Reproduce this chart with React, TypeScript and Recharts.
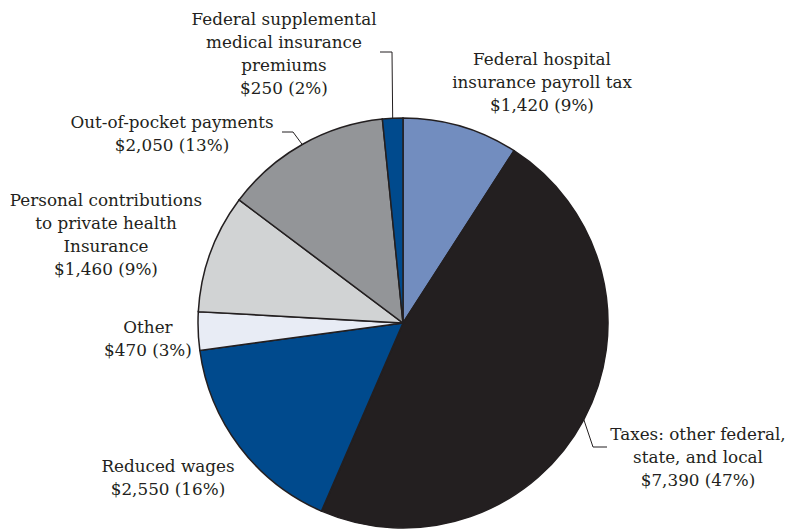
import React from "react";
import { PieChart, Pie, Cell } from "recharts";

const categories = [
  "Federal hospital insurance payroll tax",
  "Taxes: other federal, state, and local",
  "Reduced wages",
  "Other",
  "Personal contributions to private health Insurance",
  "Out-of-pocket payments",
  "Federal supplemental medical insurance premiums",
];
const values = [1420, 7390, 2550, 470, 1460, 2050, 250];
const percents = ["9%", "47%", "16%", "3%", "9%", "13%", "2%"];
const labelLines: string[][] = [
  ["Federal hospital", "insurance payroll tax"],
  ["Taxes: other federal,", "state, and local"],
  ["Reduced wages"],
  ["Other"],
  ["Personal contributions", "to private health", "Insurance"],
  ["Out-of-pocket payments"],
  ["Federal supplemental", "medical insurance", "premiums"],
];
const colors = ["#728dbf", "#231f20", "#004a8d", "#e8ecf5", "#d1d3d4", "#939598", "#004a8d"];

// label layout: text centre x, first baseline y, optional leader elbow + end
const labelLayout = [
  { x: 542, y: 65, leader: null },
  { x: 698, y: 440, leader: [[593, 447], [607, 447]] },
  { x: 168, y: 472, leader: null },
  { x: 148, y: 333, leader: null },
  { x: 106, y: 206, leader: null },
  { x: 172, y: 128, leader: [[293, 132], [282, 132]] },
  { x: 284, y: 25, leader: [[392, 52], [380, 52]] },
];

const data = categories.map((name, i) => ({
  name,
  value: values[i],
  pct: percents[i],
  lines: labelLines[i],
}));

const FONT = "'DejaVu Serif', serif";
const LINE_H = 23;
const TEXT = "#231f20";
const RAD = Math.PI / 180;

const renderLabel = (props: any) => {
  const { cx, cy, midAngle, outerRadius, index } = props;
  const d = data[index];
  const lay = labelLayout[index];
  const lines = [...d.lines, `$${d.value.toLocaleString("en-US")} (${d.pct})`];
  let leader = null;
  if (lay.leader) {
    const sx = cx + outerRadius * Math.cos(-midAngle * RAD);
    const sy = cy + outerRadius * Math.sin(-midAngle * RAD);
    const pts = [[sx, sy], ...lay.leader].map((p) => p.join(",")).join(" ");
    leader = <polyline points={pts} fill="none" stroke={TEXT} strokeWidth={1} />;
  }
  return (
    <g key={`lbl-${index}`}>
      {leader}
      <text x={lay.x} y={lay.y} textAnchor="middle" fill={TEXT} fontFamily={FONT} fontSize={16.8}>
        {lines.map((l, j) => (
          <tspan key={j} x={lay.x} y={lay.y + j * LINE_H}>
            {l}
          </tspan>
        ))}
      </text>
    </g>
  );
};

export default function App() {
  return (
    <div style={{ position: "absolute", left: 0, top: 0, background: "#fff" }}>
      <PieChart width={785} height={529} margin={{ top: 0, right: 0, bottom: 0, left: 0 }}>
        <Pie
          data={data}
          dataKey="value"
          nameKey="name"
          cx={403}
          cy={323}
          outerRadius={205}
          startAngle={90}
          endAngle={-270}
          stroke="#231f20"
          strokeWidth={1.5}
          label={renderLabel}
          labelLine={false}
          isAnimationActive={false}
        >
          {data.map((d, i) => (
            <Cell key={i} fill={colors[i]} />
          ))}
        </Pie>
      </PieChart>
    </div>
  );
}
